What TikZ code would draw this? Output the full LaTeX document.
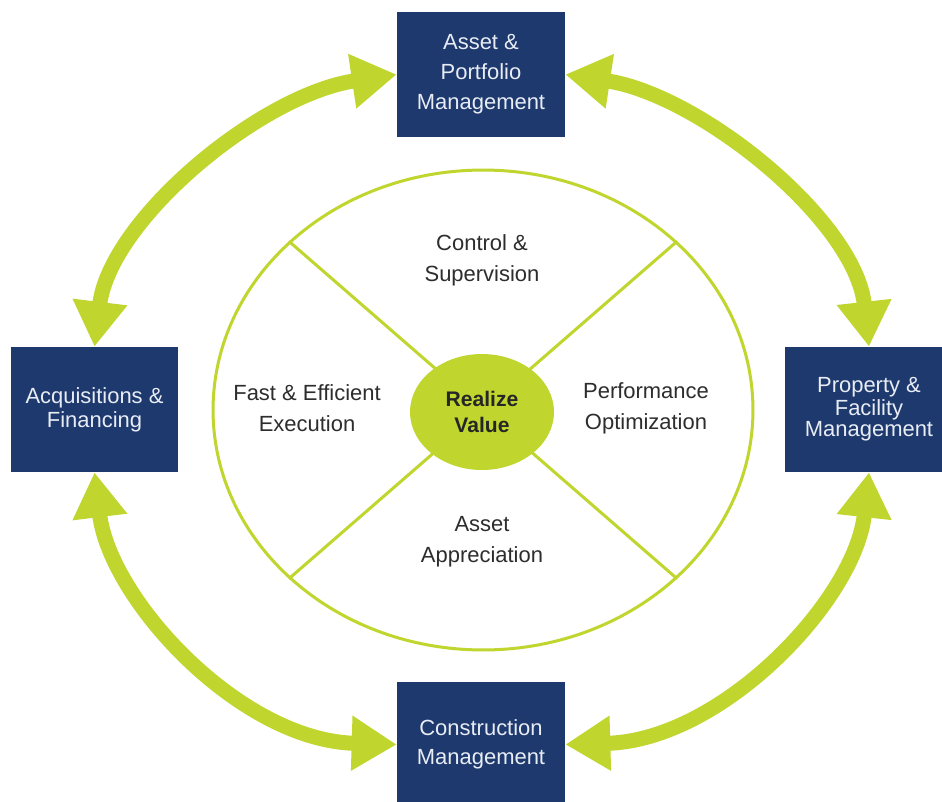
\documentclass[tikz,border=0pt]{standalone}
\usepackage{fontspec}
\setmainfont{Liberation Sans}
\usetikzlibrary{shapes.geometric,arrows.meta}
\definecolor{boxBlue}{RGB}{30,57,110}
\definecolor{limeGreen}{RGB}{192,214,46}
\definecolor{boxText}{RGB}{232,236,244}
\definecolor{innerText}{RGB}{45,45,45}
\tikzstyle{canvas} = [x = 0.02cm, y = -0.02cm]
\tikzstyle{stageBox} = [fill=boxBlue, text=boxText, minimum width=3.36cm, minimum height=2.5cm, inner sep=0pt, align=center, font=\fontsize{12.5}{17}\selectfont]
\tikzstyle{cycleArrow} = [color=limeGreen, line width=0.3cm, {Triangle[width=1.04cm,length=0.9cm]}-{Triangle[width=1.04cm,length=0.9cm]}]
\tikzstyle{ringLine} = [draw=limeGreen, line width=0.06cm]
\tikzstyle{sectorText} = [text=innerText, align=center, font=\fontsize{12.5}{17.5}\selectfont]
\begin{document}
\begin{tikzpicture}[canvas]
    \fill [white, use as bounding box] (0,0) rectangle (942,801);
    \node [ringLine, ellipse, minimum width=10.8cm, minimum height=9.6cm, inner sep=0pt] (ring) at (483,410) {};
    \draw [ringLine] (ring.139) -- (ring.-41);
    \draw [ringLine] (ring.41) -- (ring.-139);
    \node [fill=limeGreen, ellipse, minimum width=2.88cm, minimum height=2.32cm, inner sep=0pt, align=center, text=black!85, font=\bfseries\fontsize{12}{15}\selectfont] (valueNode) at (482,412) {Realize\\Value};
    \node [sectorText] (controlText) at (482,260) {Control \&\\Supervision};
    \node [sectorText] (fastText) at (307,408.5) {Fast \& Efficient\\Execution};
    \node [sectorText] (perfText) at (646,408.5) {Performance\\Optimization};
    \node [sectorText] (apprText) at (482,542) {Asset\\Appreciation};
    \node [stageBox] (assetBox) at (481,74.5) {Asset \&\\Portfolio\\Management};
    \node [stageBox, font=\fontsize{12.5}{13.5}\selectfont] (acqBox) at (94.5,409.5) {Acquisitions \&\\Financing};
    \node [stageBox, font=\fontsize{12.5}{10.5}\selectfont] (propBox) at (869,409.5) {Property \&\\Facility\\Management};
    \node [stageBox, font=\fontsize{12.5}{16.5}\selectfont] (consBox) at (481,744.5) {Construction\\Management};
    \draw [cycleArrow] (acqBox.north) .. controls (110,220) and (260,95) .. (assetBox.west);
    \draw [cycleArrow] (assetBox.east) .. controls (700,95) and (855,220) .. (propBox.north);
    \draw [cycleArrow] (acqBox.south) .. controls (110,600) and (240,740) .. (consBox.west);
    \draw [cycleArrow] (propBox.south) .. controls (855,600) and (722,740) .. (consBox.east);
\end{tikzpicture}
\end{document}
